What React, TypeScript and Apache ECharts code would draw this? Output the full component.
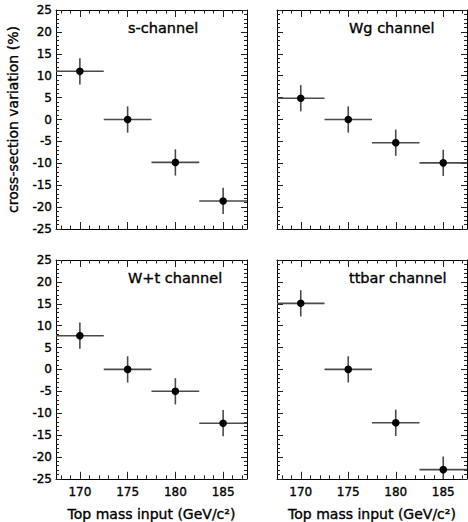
import React, { useEffect, useRef } from "react";
import * as echarts from "echarts";

const massInputs = [170, 175, 180, 185];
const massHalfWidth = [2.5, 2.5, 2.5, 2.5];
const sChannel = [11, 0, -9.8, -18.6];
const sChannelErr = [3, 3, 3, 3];
const wgChannel = [4.85, 0, -5.3, -9.9];
const wgChannelErr = [3, 3, 3, 3];
const wtChannel = [7.7, 0, -5, -12.3];
const wtChannelErr = [3, 3, 3, 3];
const ttbarChannel = [15.1, 0, -12.2, -22.9];
const ttbarChannelErr = [3, 3, 3, 3];
const panelTitles = ["s-channel", "Wg channel", "W+t channel", "ttbar channel"];
const xMajorTicks = [170, 175, 180, 185];
const xMinorTicks = [168, 169, 171, 172, 173, 174, 176, 177, 178, 179, 181, 182, 183, 184, 186, 187];
const X_MIN = 167.5;
const X_MAX = 187.5;
const Y_MIN = -25;
const Y_MAX = 25;
const xAxisTitle = "Top mass input (GeV/c\u00B2)";
const yAxisTitle = "cross-section variation (%)";

const channels = [
  { values: sChannel, errs: sChannelErr },
  { values: wgChannel, errs: wgChannelErr },
  { values: wtChannel, errs: wtChannelErr },
  { values: ttbarChannel, errs: ttbarChannelErr },
];

const FONT = "DejaVu Sans";
const heavy = { textBorderColor: "#000", textBorderWidth: 0.35 };

const grids = [
  { left: 56, top: 10, width: 191, height: 219 },
  { left: 277, top: 10, width: 190, height: 219 },
  { left: 56, top: 260, width: 191, height: 219 },
  { left: 277, top: 260, width: 190, height: 219 },
];
const titlePos = [
  { left: 128, top: 20 },
  { left: 349, top: 20 },
  { left: 128, top: 270 },
  { left: 349, top: 270 },
];

function buildOption() {
  const xAxes: any[] = [];
  const yAxes: any[] = [];
  const series: any[] = [];
  grids.forEach((_, g) => {
    const isBottom = g >= 2;
    const isLeft = g % 2 === 0;
    const tickStyle = { color: "#222", width: 1 };
    const mk = (position: string, major: boolean, labels: boolean) => ({
      type: "value",
      gridIndex: g,
      position,
      min: X_MIN,
      max: X_MAX,
      splitLine: { show: false },
      axisLine: { show: major, onZero: false, lineStyle: { color: "#000", width: 1 } },
      axisTick: {
        show: true,
        inside: true,
        length: major ? 7 : 3.5,
        customValues: major ? xMajorTicks : xMinorTicks,
        lineStyle: tickStyle,
      },
      axisLabel: labels
        ? {
            show: true,
            customValues: xMajorTicks,
            fontSize: 12,
            color: "#000",
            fontFamily: FONT,
            margin: 7,
            ...heavy,
          }
        : { show: false },
      ...(labels
        ? {
            name: xAxisTitle,
            nameLocation: "middle",
            nameGap: 28,
            nameTextStyle: { fontSize: 14, color: "#000", fontFamily: FONT, ...heavy },
          }
        : {}),
    });
    xAxes.push(mk("bottom", true, isBottom));
    xAxes.push(mk("bottom", false, false));
    xAxes.push(mk("top", true, false));
    xAxes.push(mk("top", false, false));

    const mkY = (position: string, labels: boolean, withName: boolean) => ({
      type: "value",
      gridIndex: g,
      position,
      min: Y_MIN,
      max: Y_MAX,
      interval: 5,
      splitLine: { show: false },
      minorSplitLine: { show: false },
      axisLine: { show: true, onZero: false, lineStyle: { color: "#000", width: 1 } },
      axisTick: { show: true, inside: true, length: 6, lineStyle: tickStyle },
      minorTick: { show: true, splitNumber: 5, length: 3, lineStyle: { color: "#222", width: 1 } },
      axisLabel: labels
        ? { show: true, fontSize: 12, color: "#000", fontFamily: FONT, margin: 4, ...heavy }
        : { show: false },
      ...(withName
        ? {
            name: yAxisTitle,
            nameLocation: "middle",
            nameRotate: 90,
            nameGap: 36,
            nameTextStyle: { fontSize: 14, color: "#000", fontFamily: FONT, ...heavy },
          }
        : {}),
    });
    yAxes.push(mkY("left", isLeft, g === 0));
    yAxes.push(mkY("right", false, false));

    const ch = channels[g];
    const data = massInputs.map((m, i) => [m, ch.values[i], massHalfWidth[i], ch.errs[i]]);
    series.push({
      type: "custom",
      xAxisIndex: g * 4,
      yAxisIndex: g * 2,
      data,
      renderItem: (params: any, api: any) => {
        const x = api.value(0);
        const y = api.value(1);
        const ex = api.value(2);
        const ey = api.value(3);
        const c = api.coord([x, y]);
        const l = api.coord([Math.max(x - ex, X_MIN), y]);
        const r = api.coord([Math.min(x + ex, X_MAX), y]);
        const lo = api.coord([x, Math.max(y - ey, Y_MIN)]);
        const hi = api.coord([x, Math.min(y + ey, Y_MAX)]);
        const ls = { stroke: "#4a4a4a", lineWidth: 1.6 };
        return {
          type: "group",
          children: [
            { type: "line", shape: { x1: l[0], y1: l[1], x2: r[0], y2: r[1] }, style: ls },
            { type: "line", shape: { x1: lo[0], y1: lo[1], x2: hi[0], y2: hi[1] }, style: ls },
            { type: "circle", shape: { cx: c[0], cy: c[1], r: 3.8 }, style: { fill: "#000" } },
          ],
        };
      },
    });
  });

  return {
    animation: false,
    backgroundColor: "#fff",
    textStyle: { fontFamily: FONT },
    title: panelTitles.map((t, i) => ({
      text: t,
      left: titlePos[i].left,
      top: titlePos[i].top,
      padding: 0,
      textStyle: {
        fontSize: 14.5,
        fontWeight: "normal",
        color: "#000",
        fontFamily: FONT,
        ...heavy,
      },
    })),
    grid: grids,
    xAxis: xAxes,
    yAxis: yAxes,
    series,
  };
}

export default function App() {
  const ref = useRef<HTMLDivElement>(null);
  useEffect(() => {
    if (!ref.current) return;
    const chart = echarts.init(ref.current, undefined, { renderer: "svg" });
    chart.setOption(buildOption() as any);
    return () => chart.dispose();
  }, []);
  return (
    <div
      ref={ref}
      style={{ position: "fixed", left: 0, top: 0, width: 468, height: 522, background: "#fff" }}
    />
  );
}
